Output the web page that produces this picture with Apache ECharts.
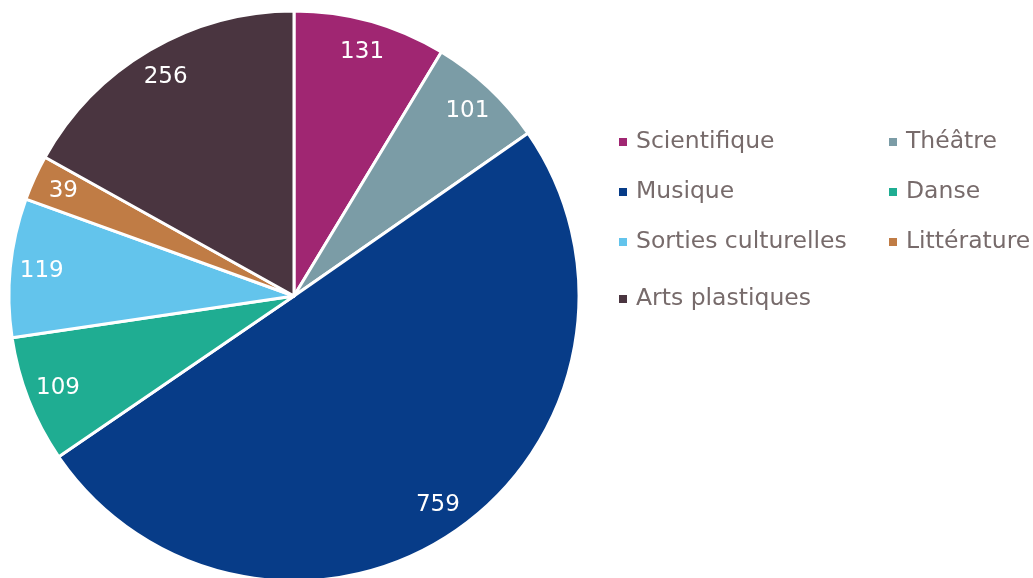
<!DOCTYPE html>
<html>
<head>
<meta charset="utf-8">
<script src="https://cdn.jsdelivr.net/npm/echarts@6/dist/echarts.min.js"></script>
<style>
  html, body { margin: 0; padding: 0; background: #ffffff; }
  #chart { width: 1033px; height: 578px; }
</style>
</head>
<body>
<div id="chart"></div>
<script>
// Activités par domaine (clockwise from 12 o'clock)
const categories = ['Scientifique', 'Théâtre', 'Musique', 'Danse', 'Sorties culturelles', 'Littérature', 'Arts plastiques'];
const values = [131, 101, 759, 109, 119, 39, 256];
const colors = ['#a02672', '#7b9ca6', '#073c88', '#1fad92', '#63c4ec', '#c07c45', '#4a3540'];

const legendCol1 = ['Scientifique', 'Musique', 'Sorties culturelles'];
const legendCol2 = ['Théâtre', 'Danse', 'Littérature'];
const legendCol3 = ['Arts plastiques'];

const data = categories.map((name, i) => ({ name, value: values[i], itemStyle: { color: colors[i] } }));

const FONT = '"DejaVu Sans", Verdana, sans-serif';
const legendBase = {
  orient: 'vertical',
  itemWidth: 10,
  itemHeight: 10,
  itemGap: 26,
  icon: 'rect',
  selectedMode: false,
  textStyle: { color: '#776b6b', fontSize: 23.5, fontFamily: FONT, lineHeight: 24, padding: [0, 0, 0, 3] }
};

const chart = echarts.init(document.getElementById('chart'), null, { renderer: 'canvas' });
chart.setOption({
  animation: false,
  color: colors,
  legend: [
    Object.assign({}, legendBase, { left: 612, top: 125, data: legendCol1 }),
    Object.assign({}, legendBase, { left: 882, top: 125, data: legendCol2 }),
    Object.assign({}, legendBase, { left: 612, top: 282, data: legendCol3 })
  ],
  series: [
    {
      type: 'pie',
      center: [294, 296],
      radius: [0, 285],
      startAngle: 90,
      clockwise: true,
      avoidLabelOverlap: false,
      itemStyle: { borderColor: '#ffffff', borderWidth: 3 },
      label: { show: false },
      labelLine: { show: false },
      emphasis: { disabled: true },
      data: data
    },
    {
      // value labels, set near the rim of each slice
      type: 'pie',
      center: [294, 296],
      radius: [216, 285],
      startAngle: 90,
      clockwise: true,
      silent: true,
      avoidLabelOverlap: false,
      itemStyle: { color: 'rgba(0,0,0,0)' },
      label: {
        show: true,
        position: 'inside',
        formatter: '{c}',
        color: '#ffffff',
        fontSize: 23,
        fontFamily: FONT
      },
      labelLine: { show: false },
      emphasis: { disabled: true },
      data: categories.map((name, i) => ({ name, value: values[i] }))
    }
  ]
});
</script>
</body>
</html>
